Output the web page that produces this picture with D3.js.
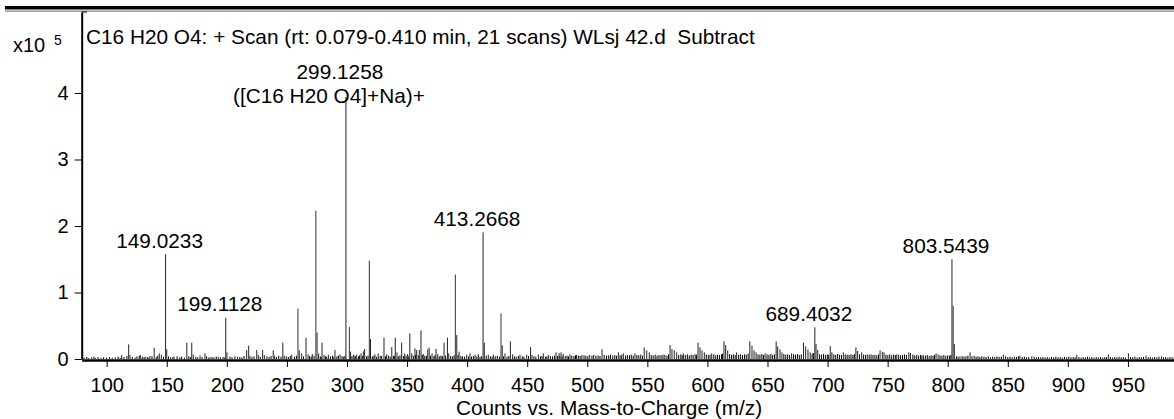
<!DOCTYPE html>
<html>
<head>
<meta charset="utf-8">
<script src="https://cdn.jsdelivr.net/npm/d3@7"></script>
<style>
  body { margin: 0; background: #fff; }
  svg { display: block; }
  text { font-family: "Liberation Sans", Arial, sans-serif; fill: #000; white-space: pre; }
</style>
</head>
<body>
<svg id="chart" width="1174" height="419"></svg>
<script>
// ---- spectrum data (intensities in units of 10^5 counts) ----
const titleText = "C16 H20 O4: + Scan (rt: 0.079-0.410 min, 21 scans) WLsj 42.d  Subtract";
const xAxisTitle = "Counts vs. Mass-to-Charge (m/z)";
const xTickValues = [100, 150, 200, 250, 300, 350, 400, 450, 500, 550, 600, 650, 700, 750, 800, 850, 900, 950];
const yTickValues = [0, 1, 2, 3, 4];

// annotated peaks
const labeledMz = [149.0233, 199.1128, 299.1258, 413.2668, 689.4032, 803.5439];
const labeledIntensity = [1.575, 0.62, 3.94, 1.905, 0.477, 1.50];
const labeledText = [
  ["149.0233"],
  ["199.1128"],
  ["299.1258", "([C16 H20 O4]+Na)+"],
  ["413.2668"],
  ["689.4032"],
  ["803.5439"]
];

// other prominent peaks [m/z, intensity]
const majorPeaks = [
  [274.1, 2.23], [318.6, 1.48], [390.2, 1.27], [428.2, 0.687],
  [259.2, 0.76], [302.0, 0.48], [275.1, 0.40], [804.55, 0.80], [805.55, 0.225]
];

// secondary peaks [m/z, intensity]
const minorPeaks = [
  [89.4, .035], [112.5, .06], [118.3, .22], [119.4, .06], [128.0, .06], [132.0, .035], [136.0, .045],
  [139.5, .17], [143.8, .085], [145.5, .065], [150.0, .145], [156.0, .035], [166.7, .245], [170.8, .245],
  [172.1, .065], [177.7, .055], [181.8, .085], [186.0, .025], [192.9, .035], [200.1, .1], [208.9, .035],
  [216.5, .135], [218.2, .2], [219.3, .05], [224.9, .135], [226.2, .06], [229.8, .135], [231.2, .06],
  [238.6, .13], [239.8, .05], [246.6, .245], [247.8, .05], [254.0, .065], [260.3, .13], [262.3, .085],
  [265.9, .32], [267.6, .07], [271.1, .075], [276.4, .085], [279.2, .245], [280.9, .06], [284.5, .065],
  [290.0, .135], [294.2, .07], [303.0, .11], [305.3, .065], [308.1, .065], [311.7, .085], [313.6, .115],
  [314.7, .15], [319.6, .3], [323.3, .07], [326.0, .085], [330.8, .32], [333.0, .07], [337.3, .18],
  [340.2, .32], [341.6, .1], [345.5, .245], [348.0, .085], [350.5, .075], [352.3, .385], [353.9, .085],
  [356.6, .16], [358.0, .135], [360.2, .135], [361.6, .43], [363.5, .075], [367.2, .145], [368.4, .17],
  [370.8, .085], [374.1, .15], [375.5, .07], [380.8, .245], [383.6, .32], [384.7, .085], [391.4, .36],
  [393.3, .11], [399.6, .065], [402.4, .085], [406.6, .065], [409.3, .075], [414.3, .245], [417.6, .065],
  [421.8, .065], [429.2, .205], [431.5, .085], [436.0, .265], [437.9, .07], [444.0, .065], [449.6, .065],
  [452.8, .18], [454.0, .06], [459.3, .065], [463.4, .085], [467.6, .06], [474.0, .1], [476.5, .09],
  [478.2, .1], [480.0, .08], [485.6, .07], [491.0, .06], [495.5, .06], [502.0, .06], [512.3, .145],
  [525.9, .1], [530.0, .085], [539.7, .085], [547.4, .175], [549.5, .13], [551.6, .1], [568.9, .21],
  [570.5, .15], [572.4, .13], [574.4, .1], [580.0, .085], [592.2, .245], [593.8, .175], [595.5, .13],
  [597.4, .1], [603.6, .085], [613.8, .265], [615.2, .21], [616.9, .13], [624.3, .1], [635.3, .265],
  [637.1, .2], [638.8, .13], [640.5, .1], [648.0, .085], [657.2, .265], [658.5, .19], [660.4, .145],
  [662.0, .1], [670.1, .085], [680.0, .245], [681.8, .19], [683.7, .145], [685.5, .1], [690.4, .225],
  [691.8, .135], [702.2, .195], [703.6, .1], [713.1, .1], [723.6, .175], [725.0, .12], [728.4, .1],
  [733.0, .07], [743.7, .13], [745.6, .11], [747.0, .1], [757.6, .07], [767.6, .1], [769.0, .09],
  [779.8, .055], [790.3, .085], [792.0, .07], [810.2, .04], [818.6, .1], [822.0, .05], [846.3, .065],
  [860.0, .05], [870.0, .04], [907.4, .06], [933.7, .07], [950.4, .085], [965.0, .05], [978.0, .04]
];

// low-level baseline signal [m/z, intensity]
const noisePeaks = [
  [81.2, .02], [83.5, .03], [85.1, .015], [87.6, .025], [90.3, .02], [92.8, .03], [95.2, .015], [97.4, .025],
  [99.9, .02], [102.3, .03], [104.6, .02], [107.1, .025], [109.5, .035], [111.2, .02], [114.4, .03], [116.8, .045],
  [121.3, .03], [123.7, .02], [125.2, .04], [127.1, .05], [129.6, .035],
  [131.1, .025], [133.8, .03], [135.2, .02], [137.7, .04], [141.2, .03], [142.5, .05], [147.3, .035], [151.4, .04],
  [153.2, .025], [155.1, .03], [158.6, .04], [160.9, .025], [162.4, .035], [164.7, .02], [168.3, .04], [169.6, .03],
  [174.2, .035], [175.8, .025], [179.4, .03],
  [183.2, .04], [184.9, .02], [187.6, .03], [189.3, .025], [191.2, .035], [194.6, .025], [196.8, .03], [198.2, .02],
  [202.6, .035], [204.3, .025], [206.7, .04], [210.8, .03], [212.5, .025], [214.3, .045], [220.9, .03], [222.6, .04],
  [227.8, .035],
  [233.4, .04], [235.2, .03], [236.8, .045], [241.3, .03], [243.2, .05], [245.1, .035], [249.5, .04], [251.2, .03],
  [252.8, .045], [256.3, .035], [257.9, .05], [263.8, .04], [268.9, .045], [270.2, .035], [272.6, .05], [277.8, .04],
  [278.5, .03],
  [282.3, .045], [283.1, .03], [286.2, .04], [287.9, .05], [289.1, .035], [291.6, .04], [292.8, .05], [295.9, .045],
  [297.3, .035], [298.4, .05], [304.1, .04], [306.6, .05], [307.3, .035], [309.7, .04], [310.5, .055], [312.8, .045],
  [316.2, .04], [317.5, .05], [321.1, .04], [322.4, .05], [324.7, .035], [327.6, .045], [328.9, .05],
  [332.1, .04], [334.5, .05], [335.9, .035], [338.6, .045], [339.4, .05], [342.8, .04], [344.1, .055], [346.9, .045],
  [349.2, .05], [351.4, .04], [355.2, .05], [357.1, .06], [359.3, .055], [362.6, .06], [364.8, .05], [366.1, .045],
  [369.5, .05], [372.4, .045], [373.3, .055], [376.8, .04], [378.2, .05], [379.4, .045],
  [382.1, .05], [386.3, .045], [387.9, .04], [389.2, .055], [392.4, .06], [394.8, .045], [396.2, .04], [397.9, .035],
  [401.1, .04], [403.6, .035], [405.2, .045], [408.1, .04], [410.7, .035], [412.1, .04], [415.9, .05], [419.3, .04],
  [420.8, .035], [423.4, .04], [425.1, .045], [427.0, .035],
  [430.3, .04], [433.2, .035], [434.7, .045], [439.3, .04], [440.8, .035], [442.6, .045], [445.9, .04], [447.3, .035],
  [451.1, .045], [455.6, .04], [457.2, .035], [461.0, .04], [462.3, .045], [465.1, .035], [466.4, .04], [469.3, .045],
  [471.1, .04], [472.7, .05], [475.3, .045], [477.2, .05], [479.1, .04],
  [481.7, .045], [483.2, .05], [484.4, .04], [487.1, .05], [488.9, .045], [490.2, .055], [492.6, .05], [494.1, .045],
  [497.3, .055], [498.8, .05], [500.5, .045], [503.9, .05], [505.4, .06], [507.2, .05], [509.0, .055], [510.6, .045],
  [514.1, .06], [516.0, .05], [517.8, .055], [519.3, .065], [521.2, .05], [522.9, .06], [524.4, .05], [527.3, .055],
  [528.7, .065],
  [531.8, .05], [533.4, .06], [535.1, .055], [536.6, .065], [538.2, .05], [541.3, .06], [542.9, .055], [544.5, .065],
  [546.0, .05], [553.2, .06], [554.8, .055], [556.5, .065], [558.1, .05], [559.7, .06], [561.4, .055], [563.0, .065],
  [564.6, .06], [566.3, .05], [567.6, .07], [576.1, .06], [577.9, .07], [579.0, .055],
  [581.6, .06], [583.3, .07], [584.9, .055], [586.5, .065], [588.1, .06], [589.8, .07], [591.0, .065], [599.0, .07],
  [600.7, .06], [602.2, .065], [605.3, .07], [606.9, .055], [608.4, .065], [610.0, .06], [611.7, .07], [612.6, .08],
  [618.5, .075], [620.1, .06], [621.6, .07], [623.1, .06], [626.0, .065], [627.6, .07], [629.2, .06],
  [630.8, .07], [632.3, .065], [633.9, .08], [642.1, .07], [643.7, .065], [645.3, .075], [646.7, .06], [649.6, .07],
  [651.2, .065], [652.8, .075], [654.3, .06], [655.8, .07], [663.6, .075], [665.2, .065], [666.8, .07], [668.4, .06],
  [671.7, .07], [673.3, .065], [674.9, .075], [676.5, .06], [678.1, .07],
  [687.1, .08], [688.2, .09], [693.4, .07], [695.0, .065], [696.6, .075], [698.2, .06], [699.8, .07], [701.0, .065],
  [705.2, .07], [706.8, .06], [708.4, .075], [710.0, .065], [711.6, .06], [714.7, .07], [716.3, .065], [717.9, .06],
  [719.5, .07], [721.1, .06], [722.3, .075], [726.6, .07], [730.0, .065],
  [731.6, .06], [734.6, .065], [736.2, .07], [737.8, .06], [739.4, .065], [741.0, .055], [742.4, .07], [748.6, .065],
  [750.2, .06], [751.8, .07], [753.4, .055], [755.0, .065], [756.4, .06], [759.2, .065], [760.8, .055], [762.4, .06],
  [764.0, .07], [765.6, .06], [771.0, .065], [772.6, .055], [774.2, .06], [775.8, .05], [777.4, .06], [778.6, .055],
  [781.4, .05], [783.0, .06], [784.6, .045], [786.2, .055], [787.8, .05], [789.0, .06], [793.6, .055], [795.2, .05],
  [796.8, .06], [798.4, .045], [800.0, .055], [801.6, .05], [802.6, .06], [807.2, .04], [808.6, .035], [812.0, .045],
  [813.6, .035], [815.2, .04], [816.8, .05], [820.2, .04], [823.6, .035], [825.2, .04], [826.8, .03], [828.4, .04],
  [830.2, .035], [832.0, .03], [833.8, .04], [835.6, .025], [837.4, .035], [839.2, .03], [841.0, .04], [842.8, .03],
  [844.6, .035], [848.2, .04], [850.0, .03], [851.8, .035], [853.6, .025], [855.4, .035], [857.2, .03], [858.8, .04],
  [862.0, .03], [863.8, .035], [865.6, .025], [867.4, .03], [872.0, .035], [873.8, .025], [875.6, .03], [877.4, .025],
  [879.2, .03],
  [881.0, .025], [882.8, .03], [884.6, .02], [886.4, .03], [888.2, .025], [890.0, .035], [891.8, .025], [893.6, .03],
  [895.4, .02], [897.2, .03], [899.0, .025], [900.8, .035], [902.6, .025], [904.4, .03], [906.0, .025], [909.2, .03],
  [911.0, .02], [912.8, .03], [914.6, .025], [916.4, .035], [918.2, .025], [920.0, .03], [921.8, .02], [923.6, .03],
  [925.4, .025], [927.2, .03], [929.0, .02],
  [930.8, .03], [932.2, .025], [935.4, .03], [937.2, .02], [939.0, .03], [940.8, .025], [942.6, .035], [944.4, .025],
  [946.2, .03], [948.0, .02], [952.2, .03], [954.0, .025], [955.8, .035], [957.6, .02], [959.4, .03], [961.2, .025],
  [963.0, .03], [966.8, .025], [968.6, .03], [970.4, .02], [972.2, .03], [974.0, .025], [975.8, .035], [979.6, .025],
  [981.4, .03], [983.2, .02], [985.0, .03], [986.8, .025], [988.6, .03], [990.4, .02], [992.2, .025], [994.0, .03],
  [995.8, .02], [997.6, .025], [999.4, .02]
];

// ---- layout ----
const svg = d3.select("#chart");
const W = 1174, H = 419;
const FONT = 20.8;      // titles and annotations
const TICK_FONT = 20;   // axis tick labels

const x = d3.scaleLinear().domain([79.2, 1000]).range([81.7, 1188]);
const y = d3.scaleLinear().domain([0, 5.218]).range([359, 12]);

// header rule
svg.append("rect").attr("x", 5).attr("y", 6).attr("width", W - 5).attr("height", 3.5).attr("fill", "#000");
svg.append("rect").attr("x", 5).attr("y", 10.4).attr("width", W - 5).attr("height", 1.5).attr("fill", "#999");

// clip region for the spectrum
svg.append("defs").append("clipPath").attr("id", "plot-clip")
  .append("rect").attr("x", x.range()[0]).attr("y", 0).attr("width", W).attr("height", H);

const plot = svg.append("g").attr("clip-path", "url(#plot-clip)");

function drawSticks(data, color, width) {
  plot.append("g").selectAll("line").data(data).join("line")
    .attr("x1", d => x(d[0])).attr("x2", d => x(d[0]))
    .attr("y1", y(0)).attr("y2", d => y(d[1]))
    .attr("stroke", color).attr("stroke-width", width);
}

drawSticks(noisePeaks, "#000", 1);
drawSticks(minorPeaks, "#222", 1);
drawSticks(majorPeaks, "#333", 1);
const labeled = labeledMz.map((m, i) => [m, labeledIntensity[i], labeledText[i]]);
drawSticks(labeled, "#222", 1);

// axes
const xAxis = d3.axisBottom(x).tickValues(xTickValues).tickSize(7).tickSizeOuter(0).tickPadding(10.5)
  .tickFormat(d3.format("d"));
const gx = svg.append("g").attr("transform", "translate(0,360)").call(xAxis);
gx.select(".domain").attr("stroke", "#000").attr("stroke-width", 2.6);
gx.selectAll(".tick line").attr("stroke", "#000").attr("stroke-width", 1);
gx.selectAll(".tick text").attr("font-size", TICK_FONT).attr("font-family", null).attr("fill", "#000");

const yAxis = d3.axisLeft(y).tickValues(yTickValues).tickSize(7).tickSizeOuter(0).tickPadding(6)
  .tickFormat(d3.format("d"));
const gy = svg.append("g").attr("transform", "translate(81.7,0)").call(yAxis);
gy.select(".domain").attr("stroke", "#000").attr("stroke-width", 2);
gy.selectAll(".tick line").attr("stroke", "#000").attr("stroke-width", 1);
gy.selectAll(".tick text").attr("font-size", TICK_FONT).attr("font-family", null).attr("fill", "#000");

// small corner at the top of the value axis
svg.append("line").attr("x1", 81.7).attr("x2", 87).attr("y1", y.range()[1]).attr("y2", y.range()[1])
  .attr("stroke", "#000").attr("stroke-width", 1);

// scale exponent
svg.append("text").attr("x", 13).attr("y", 51.5).attr("font-size", TICK_FONT).text("x10");
svg.append("text").attr("x", 54).attr("y", 45).attr("font-size", 14).text("5");

// title
svg.append("text").attr("x", 86).attr("y", 43.5).attr("font-size", FONT).text(titleText);

// axis title
svg.append("text").attr("x", 609).attr("y", 415).attr("text-anchor", "middle")
  .attr("font-size", FONT).text(xAxisTitle);

// peak annotations
const lineShift = [-6, -17];
labeled.forEach(([m, v, lines]) => {
  const px = x(m), py = y(v);
  const firstBaseline = lines.length > 1 ? py - 18 : py - 6.5;
  lines.forEach((t, i) => {
    svg.append("text")
      .attr("x", px + lineShift[Math.min(i, 1)])
      .attr("y", firstBaseline + i * 24)
      .attr("text-anchor", "middle")
      .attr("font-size", FONT)
      .text(t);
  });
});
</script>
</body>
</html>
